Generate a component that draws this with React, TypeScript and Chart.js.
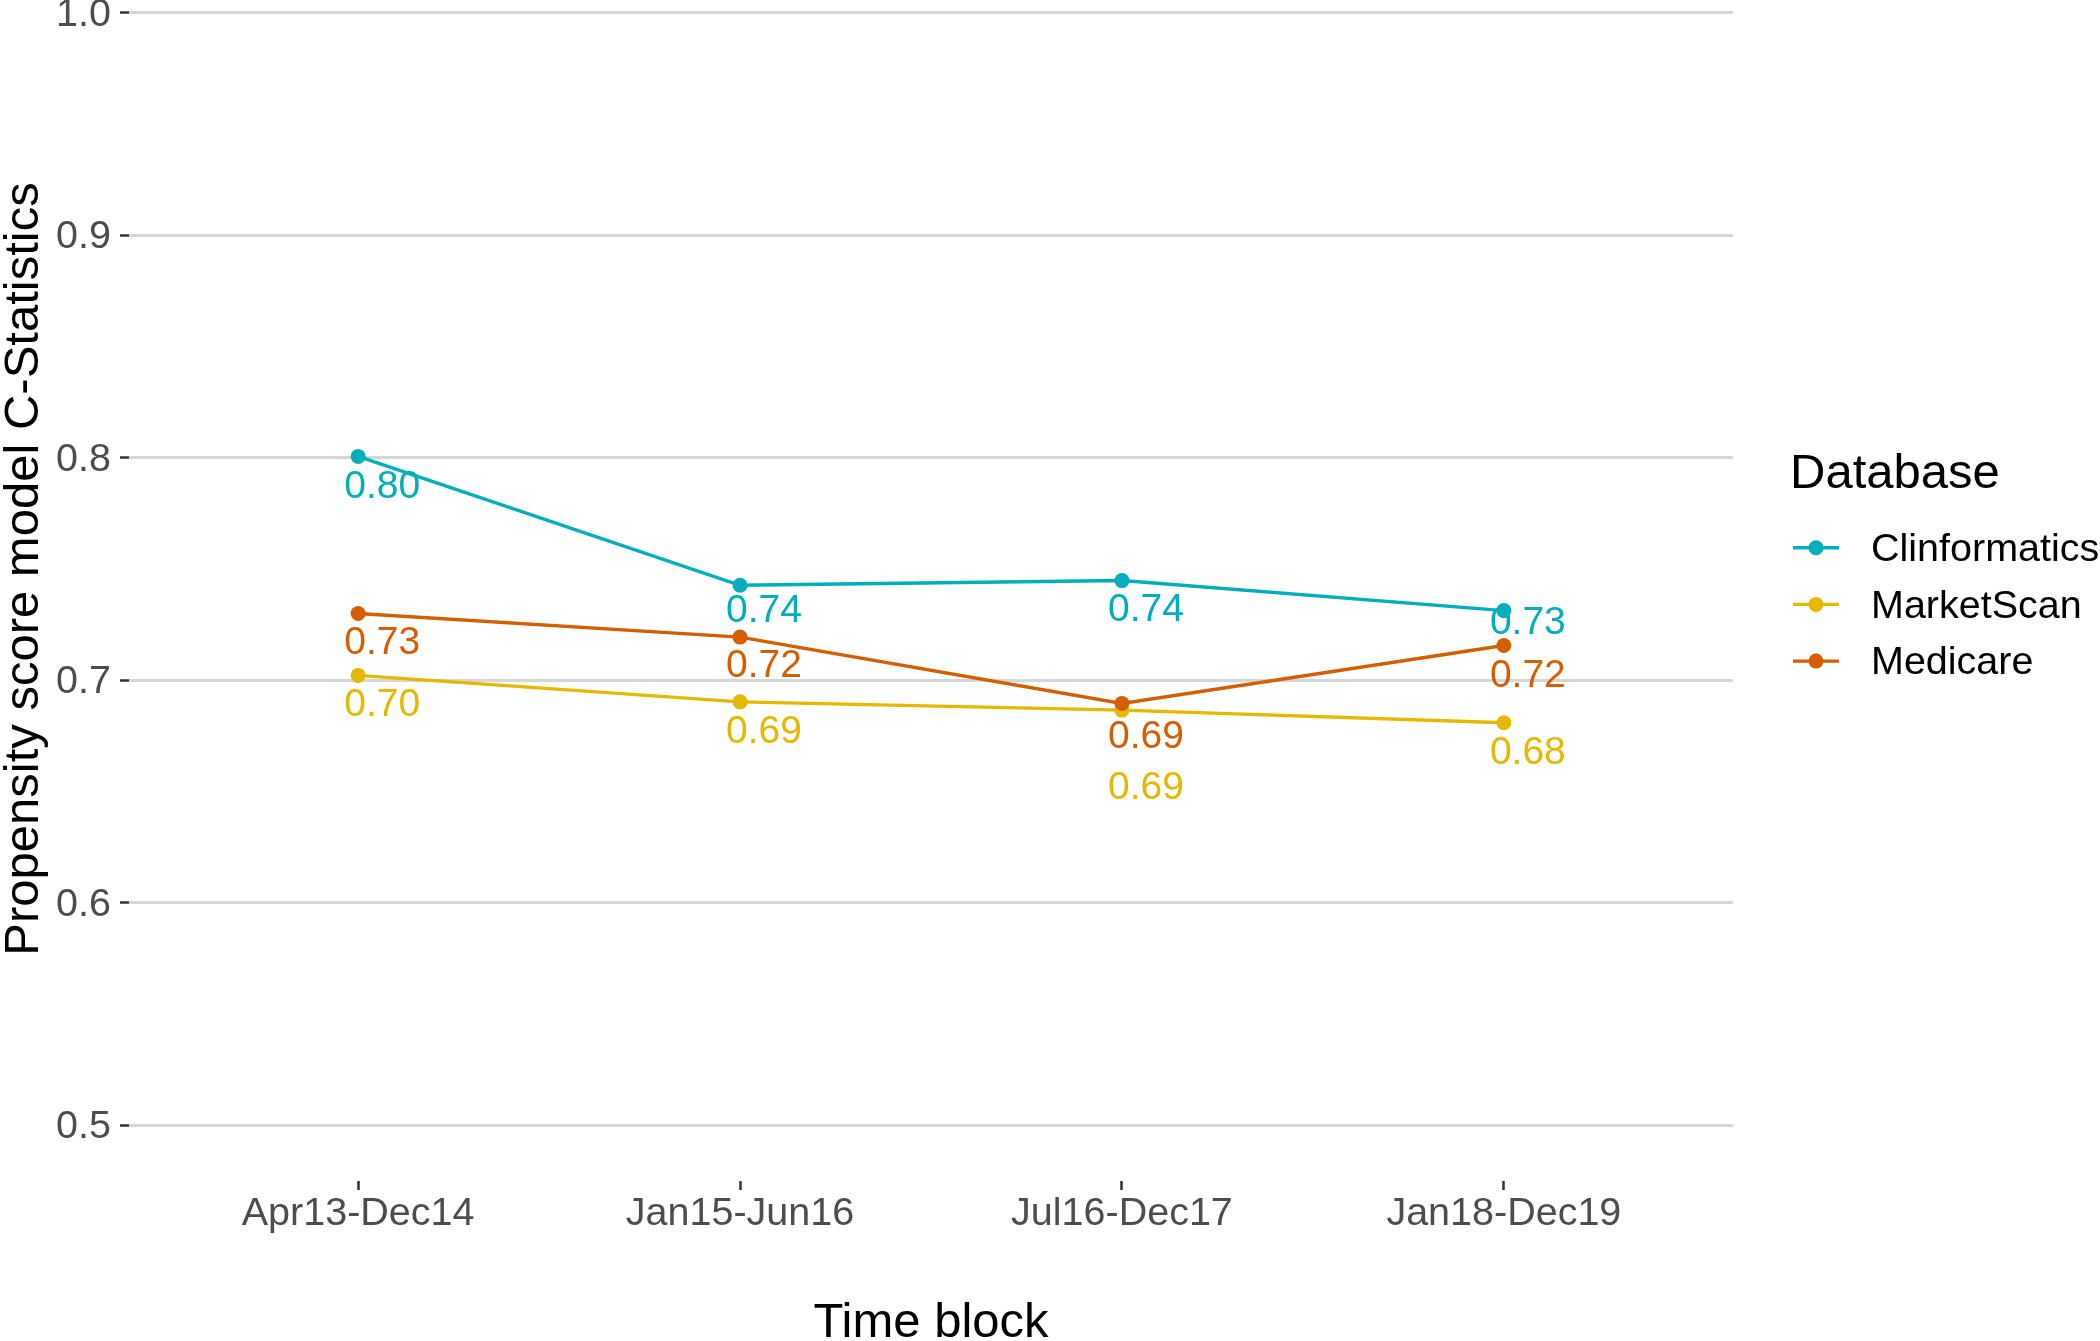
import React, { useEffect, useRef } from "react";
import { Chart, registerables } from "chart.js";

Chart.register(...registerables);

// ---- data ----
const categories = ["Apr13-Dec14", "Jan15-Jun16", "Jul16-Dec17", "Jan18-Dec19"];
const seriesNames = ["Clinformatics", "MarketScan", "Medicare"];
const clinformatics = [0.8006, 0.7427, 0.7448, 0.7313];
const marketScan = [0.7022, 0.6903, 0.6866, 0.6809];
const medicare = [0.73, 0.7194, 0.6896, 0.7156];
const yTicks = [0.5, 0.6, 0.7, 0.8, 0.9, 1.0];

// ---- styles / layout ----
const FONT = '"Liberation Sans", Arial, Helvetica, sans-serif';
const colors = ["#00AFBB", "#E7B800", "#D55E00"];
const drawOrder = [2, 1, 0];
// vertical offsets (px) of value labels below each point (repel-like placement)
const labelDy = [
  [30.5, 26.5, 29.5, 13],
  [30, 30, 78, 30.5],
  [30, 29, 33.5, 31],
];
const labelDx = 24;
const CANVAS_W = 2100;
const CANVAS_H = 1396;
const CANVAS_TOP = -55;
const Y_LABEL_SHIFT = 2;

const valueLabels = {
  id: "valueLabels",
  afterDatasetsDraw(chart: any) {
    const ctx = chart.ctx as CanvasRenderingContext2D;
    ctx.save();
    ctx.font = `39px ${FONT}`;
    ctx.textAlign = "center";
    ctx.textBaseline = "middle";
    chart.data.datasets.forEach((ds: any, di: number) => {
      const meta = chart.getDatasetMeta(di);
      meta.data.forEach((pt: any, i: number) => {
        ctx.fillStyle = ds.borderColor;
        ctx.fillText(Number(ds.data[i].y).toFixed(2), pt.x + labelDx, pt.y + labelDy[di][i]);
      });
    });
    ctx.restore();
  },
};

const sideLegend = {
  id: "sideLegend",
  afterDraw(chart: any) {
    const ctx = chart.ctx as CanvasRenderingContext2D;
    const left = chart.chartArea.right + 57;
    const off = -CANVAS_TOP;
    ctx.save();
    ctx.fillStyle = "#000000";
    ctx.font = `49px ${FONT}`;
    ctx.textAlign = "left";
    ctx.textBaseline = "alphabetic";
    ctx.fillText("Database", left, 488 + off);
    chart.data.datasets.forEach((ds: any, i: number) => {
      const y = 547.7 + 56.7 * i + off;
      ctx.strokeStyle = ds.borderColor;
      ctx.lineWidth = 3.4;
      ctx.beginPath();
      ctx.moveTo(left + 3, y);
      ctx.lineTo(left + 49, y);
      ctx.stroke();
      ctx.fillStyle = ds.borderColor;
      ctx.beginPath();
      ctx.arc(left + 26, y, 7.5, 0, Math.PI * 2);
      ctx.fill();
      ctx.fillStyle = "#000000";
      ctx.font = `39.5px ${FONT}`;
      ctx.textBaseline = "middle";
      ctx.fillText(ds.label, left + 81, y + 2.5);
    });
    ctx.restore();
  },
};

export default function App() {
  const ref = useRef<HTMLCanvasElement>(null);

  useEffect(() => {
    const seriesValues = [clinformatics, marketScan, medicare];
    const chart = new Chart(ref.current as HTMLCanvasElement, {
      type: "line",
      data: {
        datasets: seriesNames.map((name, si) => ({
          label: name,
          data: seriesValues[si].map((v, i) => ({ x: i, y: v })),
          borderColor: colors[si],
          backgroundColor: colors[si],
          pointBackgroundColor: colors[si],
          pointBorderWidth: 0,
          pointRadius: 7.5,
          borderWidth: 3.4,
          tension: 0,
          fill: false,
          order: drawOrder[si],
        })),
      },
      options: {
        animation: false,
        responsive: false,
        maintainAspectRatio: false,
        devicePixelRatio: 1,
        layout: { padding: { top: 12, left: 0, right: 367, bottom: 0 } },
        plugins: {
          legend: { display: false },
          tooltip: { enabled: false },
        },
        scales: {
          x: {
            type: "linear",
            min: -0.6,
            max: 3.6,
            afterBuildTicks: (s: any) => {
              s.ticks = categories.map((_, i) => ({ value: i }));
            },
            afterFit: (s: any) => {
              s.height = 160;
              s.paddingLeft = 0;
              s.paddingRight = 0;
              s.paddingTop = 0;
              s.paddingBottom = 0;
            },
            ticks: {
              autoSkip: false,
              maxRotation: 0,
              minRotation: 0,
              padding: 4.5,
              color: "#4D4D4D",
              font: { family: FONT, size: 39.5, lineHeight: 1 },
              callback: (v: any) => categories[Number(v)] ?? "",
            },
            grid: {
              drawOnChartArea: false,
              drawTicks: true,
              tickLength: 9,
              tickWidth: 2.5,
              tickColor: "#333333",
            },
            border: { display: false },
            title: {
              display: true,
              text: "Time block",
              color: "#000000",
              padding: 0,
              font: { family: FONT, size: 49, lineHeight: 0.7 },
            },
          },
          y: {
            type: "linear",
            min: 0.475,
            max: 1.025,
            afterBuildTicks: (s: any) => {
              s.ticks = yTicks.map((v) => ({ value: v }));
            },
            afterFit: (s: any) => {
              s.width = 129;
              s.paddingLeft = 0;
              s.paddingRight = 0;
              s.paddingTop = 0;
              s.paddingBottom = 0;
              if (!s.__shiftPatched) {
                const orig = s._computeLabelItems.bind(s);
                s._computeLabelItems = (area: any) =>
                  orig(area).map((it: any) => ({
                    ...it,
                    options: {
                      ...it.options,
                      translation: [it.options.translation[0], it.options.translation[1] + Y_LABEL_SHIFT],
                    },
                  }));
                s.__shiftPatched = true;
              }
            },
            ticks: {
              padding: 9,
              color: "#4D4D4D",
              font: { family: FONT, size: 39.5, lineHeight: 1 },
              callback: (v: any) => Number(v).toFixed(1),
            },
            grid: {
              color: "#D6D6D6",
              lineWidth: 3,
              drawTicks: true,
              tickLength: 9,
              tickWidth: 2.5,
              tickColor: "#333333",
            },
            border: { display: false },
            title: {
              display: true,
              text: "Propensity score model C-Statistics",
              color: "#000000",
              padding: 0,
              font: { family: FONT, size: 49, lineHeight: 1 },
            },
          },
        },
      } as any,
      plugins: [valueLabels, sideLegend],
    });
    return () => chart.destroy();
  }, []);

  return (
    <div
      style={{
        position: "absolute",
        left: 0,
        top: CANVAS_TOP,
        width: CANVAS_W,
        height: CANVAS_H,
        background: "#ffffff",
      }}
    >
      <canvas
        ref={ref}
        width={CANVAS_W}
        height={CANVAS_H}
        style={{ display: "block", width: CANVAS_W, height: CANVAS_H }}
      />
    </div>
  );
}
